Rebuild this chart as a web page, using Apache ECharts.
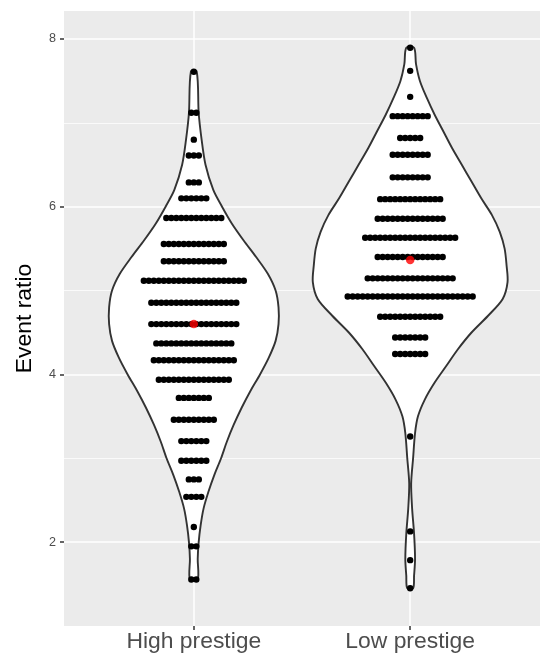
<!DOCTYPE html>
<html>
<head>
<meta charset="utf-8">
<script src="https://cdn.jsdelivr.net/npm/echarts@6/dist/echarts.min.js"></script>
<style>html,body{margin:0;padding:0;background:#fff}#c{width:540px;height:655px}</style>
</head>
<body>
<div id="c"></div>
<script>
// ---- data ----
const categories = ['High prestige', 'Low prestige'];
const yTicks = [2, 4, 6, 8];
// dot-plot rows (bin centre) and number of dots in each row
const highValues = [7.61, 7.12, 6.80, 6.61, 6.29, 6.10, 5.865, 5.555, 5.35, 5.117, 4.855, 4.60, 4.37, 4.17, 3.936, 3.72, 3.459, 3.205, 2.97, 2.748, 2.54, 2.18, 1.95, 1.555];
const highCounts = [1, 2, 1, 3, 3, 6, 12, 13, 13, 21, 18, 18, 16, 17, 15, 7, 9, 6, 6, 3, 4, 1, 2, 2];
const lowValues = [7.896, 7.62, 7.31, 7.08, 6.82, 6.62, 6.35, 6.09, 5.857, 5.63, 5.40, 5.146, 4.93, 4.688, 4.44, 4.243, 3.26, 2.128, 1.785, 1.45];
const lowCounts = [1, 1, 1, 8, 5, 8, 8, 13, 14, 19, 14, 18, 26, 13, 7, 7, 1, 1, 1, 1];
const meanValues = [4.60, 5.364];
// violin outline: relative width (1 = widest violin) at given heights
const highViolinY = [1.555, 1.8, 2.0, 2.2, 2.4, 2.6, 2.8, 3.0, 3.2, 3.4, 3.6, 3.8, 4.0, 4.2, 4.4, 4.6, 4.8, 5.0, 5.2, 5.4, 5.6, 5.8, 6.0, 6.2, 6.5, 6.8, 7.12, 7.61];
const highViolinW = [0.04, 0.04, 0.05, 0.07, 0.10, 0.15, 0.21, 0.28, 0.34, 0.41, 0.49, 0.58, 0.68, 0.77, 0.84, 0.87, 0.87, 0.84, 0.76, 0.64, 0.51, 0.39, 0.29, 0.20, 0.12, 0.08, 0.05, 0.03];
const lowViolinY = [1.45, 1.6, 1.8, 2.1, 2.4, 2.7, 3.0, 3.3, 3.5, 3.7, 3.9, 4.1, 4.3, 4.5, 4.7, 4.9, 5.1, 5.3, 5.5, 5.7, 5.9, 6.1, 6.3, 6.5, 6.7, 6.9, 7.1, 7.3, 7.5, 7.7, 7.896];
const lowViolinW = [0.03, 0.04, 0.05, 0.04, 0.02, 0.01, 0.03, 0.05, 0.08, 0.15, 0.25, 0.37, 0.49, 0.63, 0.80, 0.95, 1.00, 0.99, 0.97, 0.92, 0.84, 0.73, 0.63, 0.53, 0.43, 0.34, 0.25, 0.17, 0.10, 0.06, 0.04];

// ---- styling constants ----
const DOT_R = 3.2, DOT_STEP = 5.0, VIOLIN_HALF = 0.45;
const FONT = 'Liberation Sans, Arial, Helvetica, sans-serif';

const violins = [[highViolinY, highViolinW], [lowViolinY, lowViolinW]];

function violinItem(params, api) {
  const g = params.dataIndex;
  const cat = g + 1;
  const ys = violins[g][0], ws = violins[g][1];
  const pts = [];
  for (let j = 0; j < ys.length; j++) pts.push(api.coord([cat + VIOLIN_HALF * ws[j], ys[j]]));
  for (let j = ys.length - 1; j >= 0; j--) pts.push(api.coord([cat - VIOLIN_HALF * ws[j], ys[j]]));
  return {
    type: 'polygon',
    shape: { points: pts, smooth: 0.3 },
    style: { fill: '#FFFFFF', stroke: '#333333', lineWidth: 1.9, lineJoin: 'round' }
  };
}
function dotItem(params, api) {
  const cat = api.value(0), v = api.value(1), n = api.value(2);
  const c = api.coord([cat, v]);
  const children = [];
  for (let i = 0; i < n; i++) {
    children.push({ type: 'circle', shape: { cx: c[0] + (i - (n - 1) / 2) * DOT_STEP, cy: c[1], r: DOT_R }, style: { fill: '#000000' } });
  }
  return { type: 'group', children };
}

const dotData = highValues.map((v, i) => [1, v, highCounts[i]])
  .concat(lowValues.map((v, i) => [2, v, lowCounts[i]]));

const gridLines = [];
yTicks.forEach(v => gridLines.push({ yAxis: v, lineStyle: { color: '#FFFFFF', width: 1.5, type: 'solid' } }));
[3, 5, 7].forEach(v => gridLines.push({ yAxis: v, lineStyle: { color: '#FFFFFF', width: 0.75, type: 'solid' } }));
[1, 2].forEach(v => gridLines.push({ xAxis: v, lineStyle: { color: '#FFFFFF', width: 1.5, type: 'solid' } }));

const chart = echarts.init(document.getElementById('c'), null, { renderer: 'canvas' });
chart.setOption({
  animation: false,
  backgroundColor: '#FFFFFF',
  grid: { left: 64, top: 11, width: 479.6, height: 615, show: true, backgroundColor: '#EBEBEB', borderWidth: 0 },
  xAxis: {
    type: 'value', min: 0.4, max: 2.6,
    axisLine: { show: false },
    splitLine: { show: false },
    axisTick: { show: true, customValues: [1, 2], length: 4, lineStyle: { color: '#333333', width: 1.5 } },
    axisLabel: { customValues: [1, 2], formatter: v => categories[Math.round(v) - 1], fontSize: 22.9, color: '#4D4D4D', fontFamily: FONT, margin: 4 }
  },
  yAxis: {
    type: 'value', min: 1.0, max: 8.334,
    name: 'Event ratio', nameLocation: 'middle', nameRotate: 90, nameGap: 28,
    nameTextStyle: { fontSize: 22.9, color: '#000000', fontFamily: FONT },
    axisLine: { show: false },
    splitLine: { show: false },
    axisTick: { show: true, customValues: yTicks, length: 4, lineStyle: { color: '#333333', width: 1.5 } },
    axisLabel: { customValues: yTicks, fontSize: 12.6, color: '#4D4D4D', fontFamily: FONT, margin: 8 }
  },
  series: [
    { type: 'scatter', data: [], z: 1, silent: true,
      markLine: { z: 1, silent: true, symbol: 'none', label: { show: false }, animation: false, data: gridLines } },
    { type: 'custom', z: 2, silent: true, data: [[1, 5], [2, 5]], renderItem: violinItem, clip: true },
    { type: 'custom', z: 3, silent: true, data: dotData, renderItem: dotItem },
    { type: 'scatter', z: 4, silent: true, symbol: 'circle', symbolSize: 8.5,
      itemStyle: { color: '#FF0000' }, data: meanValues.map((v, i) => [i + 1, v]) }
  ]
});
</script>
</body>
</html>
